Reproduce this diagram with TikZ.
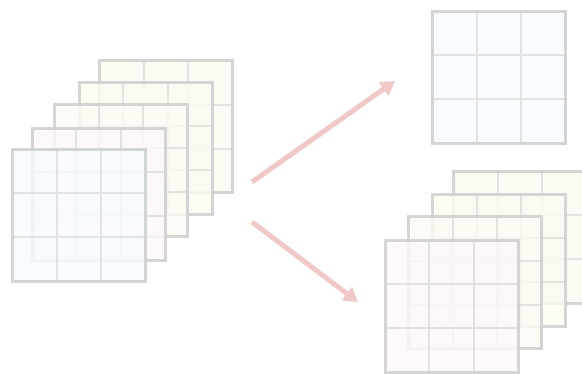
\documentclass[tikz,border=0pt]{standalone}
\usetikzlibrary{arrows.meta}
\definecolor{outerln}{HTML}{D0D0D0}
\definecolor{innerln}{HTML}{DEDEDE}
\definecolor{arrowc}{HTML}{F0C8C8}
\definecolor{gblue}{HTML}{F7FBFF}
\definecolor{gpink}{HTML}{FDF8FC}
\definecolor{gcream}{HTML}{FDFAF4}
\definecolor{gyellow}{HTML}{FBFCF0}
\definecolor{ggreen}{HTML}{F8FBF0}
\tikzset{
  gridfill/.style={fill opacity=0.82},
  gridinner/.style={draw=innerln, line width=2pt, draw opacity=0.85},
  gridouter/.style={draw=outerln, line width=3pt, draw opacity=0.9},
  bigarrow/.style={draw=arrowc, line width=5pt, -{Triangle[length=14pt,width=16pt]}}
}
\newcommand{\mygrid}[4]{%
  \begin{scope}[shift={(#1,#2)}]
    \node[name=#4, inner sep=0pt, minimum width=133pt, minimum height=132pt, anchor=north west] at (0,0) {};
    \fill[#3, gridfill] (0,0) rectangle (133,132);
    \draw[gridinner] (44.33,0) -- (44.33,132) (88.67,0) -- (88.67,132)
                     (0,44) -- (133,44) (0,88) -- (133,88);
    \draw[gridouter] (0,0) rectangle (133,132);
  \end{scope}}
\begin{document}
\begin{tikzpicture}[x=1pt,y=-1pt]
\useasboundingbox (0,0) rectangle (582,374);
% left stack
\mygrid{99.5}{61}{ggreen}{L5}
\mygrid{79}{82.5}{gyellow}{L4}
\mygrid{54.5}{104.5}{gcream}{L3}
\mygrid{32}{128.5}{gpink}{L2}
\mygrid{12.5}{149.5}{gblue}{L1}
% top right
\mygrid{432.5}{11.5}{gblue}{T1}
% lower right stack
\mygrid{453.5}{171.5}{ggreen}{R4}
\mygrid{432.5}{194.5}{gyellow}{R3}
\mygrid{408.5}{217}{gcream}{R2}
\mygrid{385}{240.5}{gpink}{R1}
% arrows
\coordinate (a1s) at (252,182);
\coordinate (a1e) at (395,81);
\coordinate (a2s) at (252,222);
\coordinate (a2e) at (358,302);
\draw[bigarrow] (a1s) -- (a1e);
\draw[bigarrow] (a2s) -- (a2e);
\end{tikzpicture}
\end{document}
